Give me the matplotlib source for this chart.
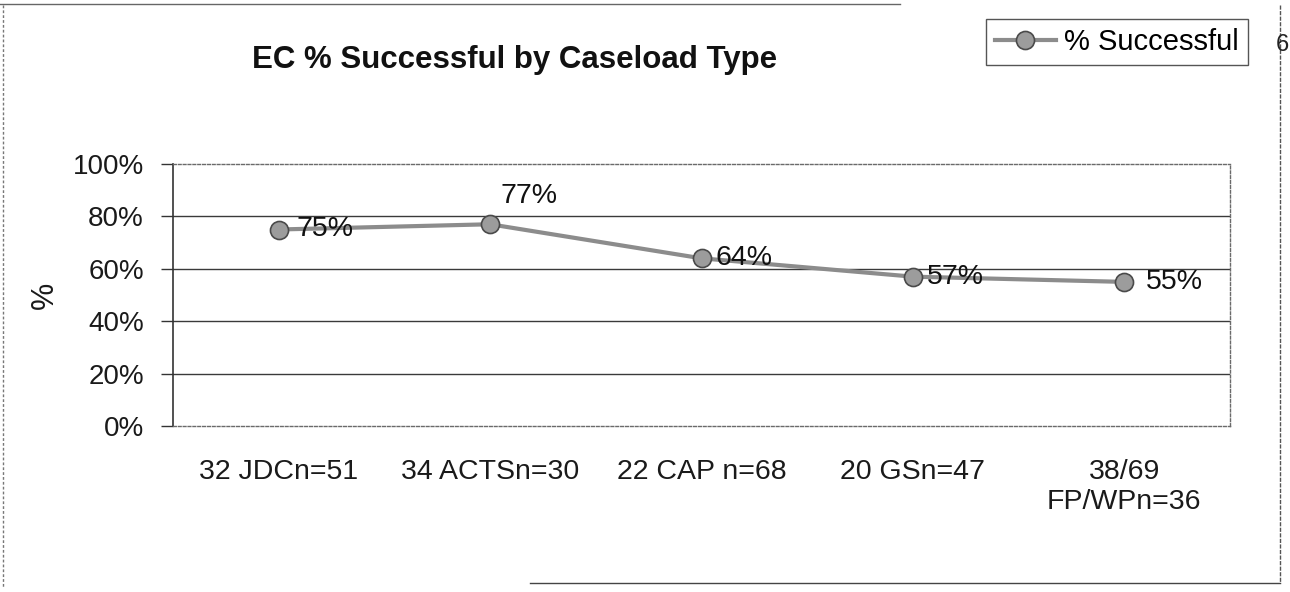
import matplotlib
matplotlib.use('Agg')
import matplotlib.pyplot as plt
from matplotlib.lines import Line2D

# Данные графика
categories = ['32 JDCn=51', '34 ACTSn=30', '22 CAP n=68', '20 GSn=47', '38/69\nFP/WPn=36']
success_pct = [75, 77, 64, 57, 55]
y_ticks = [0, 20, 40, 60, 80, 100]

# Смещения подписей значений (в пикселях)
label_offsets = [(18, 0), (10, 28), (14, 0), (14, 0), (22, 0)]

plt.rcParams['font.family'] = ['Liberation Sans', 'DejaVu Sans']

W, H = 1290, 592
fig = plt.figure(figsize=(W / 100, H / 100), dpi=100)
fig.patch.set_facecolor('white')

ax = fig.add_axes([173 / W, 1 - 426 / H, (1230 - 173) / W, (426 - 164) / H])

x = list(range(len(categories)))
line, = ax.plot(x, success_pct, color='#8c8c8c', linewidth=3,
                marker='o', markersize=13, markerfacecolor='#9c9c9c',
                markeredgecolor='#4a4a4a', markeredgewidth=1.2, zorder=3,
                label='% Successful')

# Подписи значений у точек
for xi, val, (dx, dy) in zip(x, success_pct, label_offsets):
    ax.annotate(f'{val}%', (xi, val), xytext=(dx, dy), textcoords='offset pixels',
                ha='left', va='center', fontsize=20.5, color='#111111', zorder=4)

ax.set_xlim(-0.5, len(categories) - 0.5)
ax.set_ylim(0, 100)
ax.set_yticks(y_ticks)
ax.set_yticklabels([f'{t}%' for t in y_ticks], fontsize=20, color='#1a1a1a')
ax.set_xticks(x)
ax.set_xticklabels(categories, fontsize=20.5, color='#1a1a1a', linespacing=1.2)
ax.tick_params(axis='x', length=0, pad=24)
ax.tick_params(axis='y', length=9, width=1, color='#333333', pad=12, direction='out')

# Горизонтальная сетка
for t in y_ticks[1:-1]:
    ax.axhline(t, color='#3a3a3a', linewidth=1, zorder=1)

# Рамка области построения
ax.spines['left'].set_color('#333333')
ax.spines['left'].set_linewidth(1.2)
for side in ['top', 'right', 'bottom']:
    ax.spines[side].set_color('#6a6a6a')
    ax.spines[side].set_linewidth(1)
    ax.spines[side].set_linestyle((0, (2, 1.5)))

ax.set_ylabel('%', fontsize=22, color='#1a1a1a', labelpad=9)

fig.text(515 / W, 1 - 68 / H, 'EC % Successful by Caseload Type',
         ha='center', va='baseline', fontsize=22.5, fontweight='bold', color='#111111')

leg = fig.legend(handles=[line], loc='upper right',
                 bbox_to_anchor=(1248 / W, 1 - 19 / H), fontsize=21,
                 fancybox=False, framealpha=1, edgecolor='#555555',
                 handlelength=2.1, handletextpad=0.3, borderpad=0.3,
                 borderaxespad=0)
leg.get_frame().set_linewidth(1)

# Внешняя рамка диаграммы
fig.add_artist(Line2D([3 / W, 3 / W], [1 - 5 / H, 1 - 588 / H], color='#777777',
                      linewidth=1, linestyle=(0, (2, 1.5))))
fig.add_artist(Line2D([1280 / W, 1280 / W], [1 - 5 / H, 1 - 583 / H], color='#555555',
                      linewidth=1, linestyle=(0, (3, 1))))
fig.add_artist(Line2D([530 / W, 1280 / W], [1 - 583 / H, 1 - 583 / H], color='#444444',
                      linewidth=1))
fig.add_artist(Line2D([0, 900 / W], [1 - 4 / H, 1 - 4 / H], color='#666666',
                      linewidth=1))
fig.text(1289 / W, 1 - 45 / H, '6', ha='right', va='center', fontsize=17, color='#222222')

fig.savefig('out.png', dpi=100, facecolor='white')
